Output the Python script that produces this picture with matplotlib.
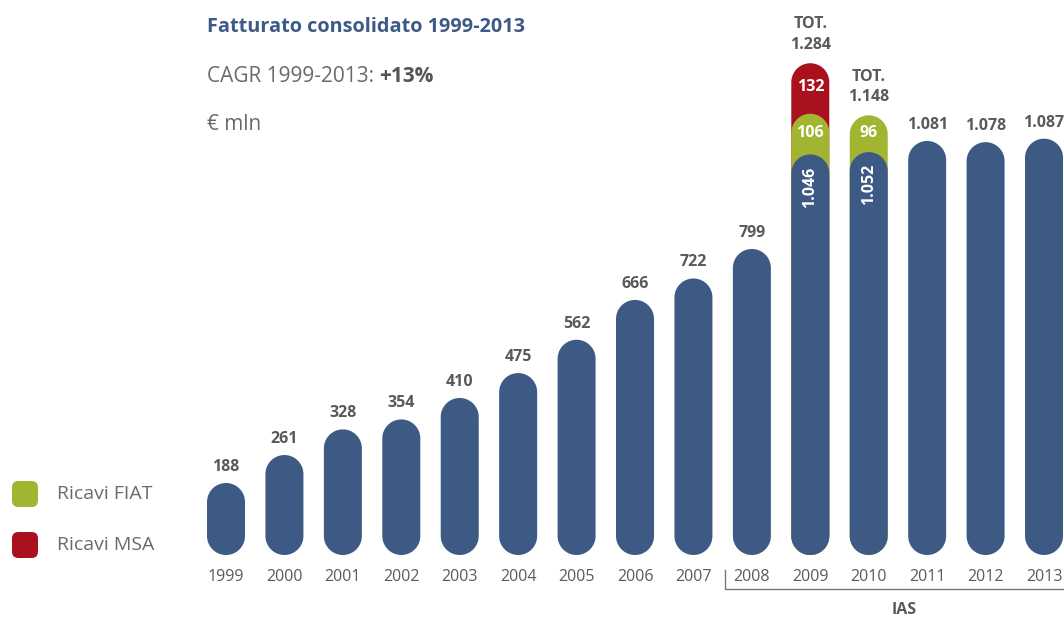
import numpy as np
import matplotlib.pyplot as plt
from matplotlib.patches import FancyBboxPatch, Polygon

plt.rcParams['font.family'] = ['Open Sans', 'DejaVu Sans']

years = ['1999', '2000', '2001', '2002', '2003', '2004', '2005', '2006',
         '2007', '2008', '2009', '2010', '2011', '2012', '2013']
core = [188, 261, 328, 354, 410, 475, 562, 666, 722, 799, 1046, 1052,
        1081, 1078, 1087]
fiat = [0, 0, 0, 0, 0, 0, 0, 0, 0, 0, 106, 96, 0, 0, 0]
msa = [0, 0, 0, 0, 0, 0, 0, 0, 0, 0, 132, 0, 0, 0, 0]
ias_from = '2008'

BLUE = '#3d5a84'
GREEN = '#a2b530'
RED = '#a8111d'
GREY = '#5a5a5a'


def fmt(v):
    return f'{v:,}'.replace(',', '.')


W, H, DPI = 1064, 617, 100
fig = plt.figure(figsize=(W / DPI, H / DPI), dpi=DPI)
ax = fig.add_axes([0, 0, 1, 1])

# pixel geometry -> data limits
px_per_x = 58.43
px_per_y = 0.383
x0_px, y0_px = 226, 555
ax.set_xlim(-x0_px / px_per_x, (W - x0_px) / px_per_x)
ax.set_ylim(-(H - y0_px) / px_per_y, y0_px / px_per_y)
ax.axis('off')

bw = 38 / px_per_x
ry = 19 / px_per_y           # vertical radius so the caps are round on screen
theta = np.linspace(0, np.pi, 40)


def pill(x, top, color):
    rx = bw / 2
    up = np.column_stack([x + rx * np.cos(theta), top - ry + ry * np.sin(theta)])
    dn = np.column_stack([x - rx * np.cos(theta), ry - ry * np.sin(theta)])
    ax.add_patch(Polygon(np.vstack([up, dn]), closed=True, fc=color,
                         ec='none', lw=0))


for i, yr in enumerate(years):
    total = core[i] + fiat[i] + msa[i]
    # draw largest first so rounded tops overlap the segment above
    if msa[i]:
        pill(i, total, RED)
    if fiat[i]:
        pill(i, core[i] + fiat[i], GREEN)
    pill(i, core[i], BLUE)

    if fiat[i] or msa[i]:
        ax.annotate(f'TOT.\n{fmt(total)}', (i, total), xytext=(0, 10),
                    textcoords='offset pixels', ha='center', va='bottom',
                    fontsize=11.5, fontweight='bold', color=GREY,
                    linespacing=1.4)
        ax.text(i, core[i] - 85, fmt(core[i]), rotation=90, ha='center',
                va='center', fontsize=11.5, fontweight='bold', color='white')
        if fiat[i]:
            ax.text(i, core[i] + fiat[i] / 2 + 3, str(fiat[i]), ha='center',
                    va='center', fontsize=11.5, fontweight='bold',
                    color='white')
        if msa[i]:
            base = core[i] + fiat[i]
            ax.text(i, base + msa[i] / 2 + 3, str(msa[i]), ha='center',
                    va='center', fontsize=11.5, fontweight='bold',
                    color='white')
    else:
        ax.annotate(fmt(core[i]), (i, total), xytext=(0, 8),
                    textcoords='offset pixels', ha='center', va='bottom',
                    fontsize=11.5, fontweight='bold', color=GREY)

    ax.annotate(yr, (i, 0), xytext=(0, -22), textcoords='offset pixels',
                ha='center', va='center', fontsize=11.5, color=GREY)

# IAS bracket
k = years.index(ias_from)
bx = k - 0.5 + 0.04
ax.plot([bx, bx, ax.get_xlim()[1]], [-40, -90, -90], color='#777777', lw=1,
        solid_joinstyle='miter')
ax.text((k + len(years) - 1) / 2 + 0.1, -143, 'IAS', ha='center',
        va='center', fontsize=11.5, fontweight='bold', color=GREY)

# header
fig.text(207 / W, 1 - 27 / H, 'Fatturato consolidato 1999-2013',
         fontsize=14.3, fontweight='bold', color='#3d5a87', va='center')
t = fig.text(207 / W, 1 - 77 / H, 'CAGR 1999-2013: ', fontsize=15,
             color='#6a6a6a', va='center')
fig.canvas.draw()
bb = t.get_window_extent()
fig.text(bb.x1 / W, 1 - 77 / H, '+13%', fontsize=15, fontweight='bold',
         color='#555555', va='center')
fig.text(207 / W, 1 - 125 / H, '€ mln', fontsize=15, color='#6a6a6a',
         va='center')

# legend
for ypx, color, label in [(494, GREEN, 'Ricavi FIAT'), (545, RED, 'Ricavi MSA')]:
    sq = FancyBboxPatch((12 / W, 1 - (ypx + 13) / H), 26 / W, 26 / H,
                        boxstyle='round,pad=0,rounding_size=0.006',
                        mutation_aspect=W / H, transform=fig.transFigure,
                        fc=color, ec='none')
    fig.patches.append(sq)
    fig.text(57 / W, 1 - ypx / H, label, fontsize=14, color='#6a6a6a',
             va='center')

fig.savefig('out.png', dpi=DPI)
